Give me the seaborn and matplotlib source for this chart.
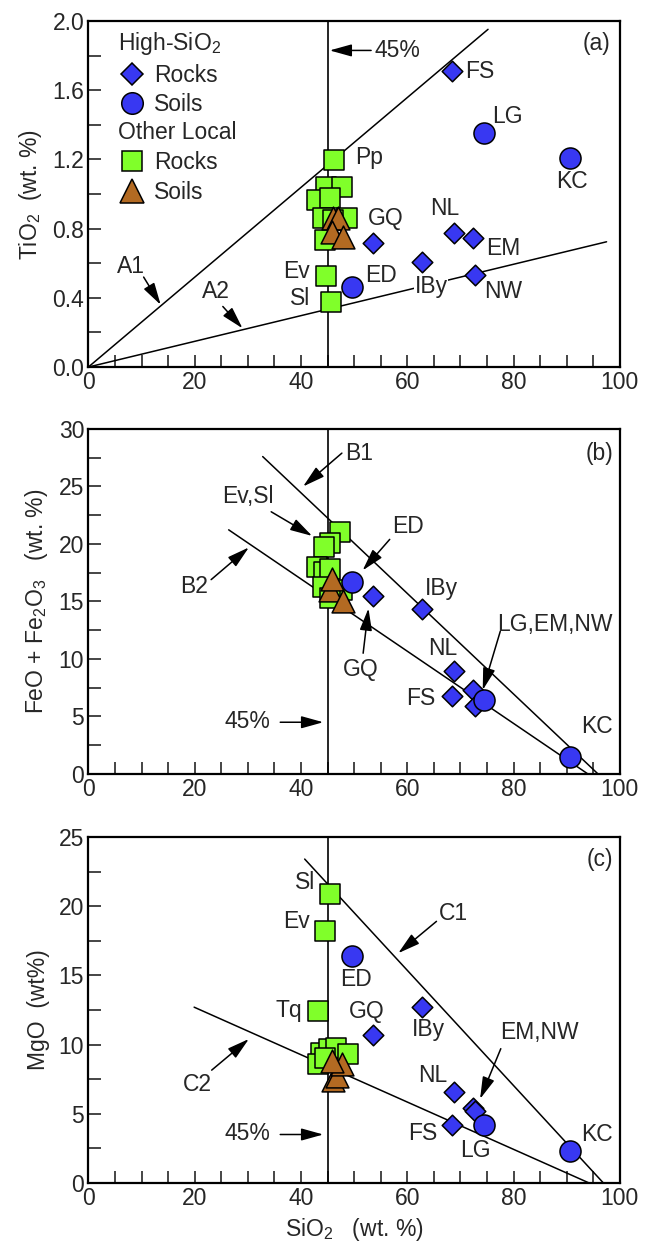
import numpy as np
import pandas as pd
import matplotlib
matplotlib.use('Agg')
import matplotlib.pyplot as plt
from matplotlib.lines import Line2D
from matplotlib.ticker import MultipleLocator, FormatStrFormatter
import seaborn as sns

sns.set_style('white')
plt.rcParams['font.family'] = ['Liberation Sans', 'DejaVu Sans']
plt.rcParams['mathtext.default'] = 'regular'
plt.rcParams['mathtext.fontset'] = 'custom'
plt.rcParams['mathtext.rm'] = 'Liberation Sans'

BLUE = '#3838F2'
GREEN = '#80FF2A'
BROWN = '#B36A22'
FS_ = 16.5

# ---- High-SiO2 samples (same SiO2 in every panel) ----
hi_rock_names = ['FS', 'NL', 'EM', 'IBy', 'NW', 'GQ']
hi_rock_sio2 = [68.5, 68.8, 72.3, 62.8, 72.7, 53.5]
hi_rock_tio2 = [1.71, 0.776, 0.747, 0.609, 0.532, 0.715]
hi_rock_fe = [6.8, 8.97, 7.32, 14.34, 5.87, 15.5]
hi_rock_mgo = [4.2, 6.55, 5.41, 12.74, 5.17, 10.7]

hi_soil_names = ['ED', 'LG', 'KC']
hi_soil_sio2 = [49.6, 74.4, 90.7]
hi_soil_tio2 = [0.464, 1.351, 1.21]
hi_soil_fe = [16.7, 6.45, 1.52]
hi_soil_mgo = [16.4, 4.2, 2.33]

# ---- Other local samples, read per panel ----
loc_rock_a_sio2 = [46.3, 44.8, 47.7, 43.0, 45.5, 44.2, 48.6, 46.1, 44.5, 44.7, 45.6]
loc_rock_a_tio2 = [1.197, 1.042, 1.042, 0.965, 0.975, 0.86, 0.86, 0.85, 0.734, 0.528, 0.377]
loc_soil_a_sio2 = [46.1, 47.0, 45.8, 48.0]
loc_soil_a_tio2 = [0.86, 0.86, 0.78, 0.753]

loc_rock_b_sio2 = [47.3, 45.4, 44.4, 43.0, 44.4, 45.5, 44.2, 47.7, 45.5]
loc_rock_b_fe = [21.0, 20.1, 19.7, 18.0, 17.6, 17.8, 16.3, 16.0, 15.3]
loc_soil_b_sio2 = [45.5, 45.8, 48.0]
loc_soil_b_fe = [16.0, 16.95, 15.0]

loc_rock_c_sio2 = [45.5, 44.6, 43.3, 43.7, 45.3, 46.6, 48.9, 43.3, 44.5]
loc_rock_c_mgo = [20.9, 18.2, 12.45, 9.42, 9.66, 9.78, 9.3, 8.57, 9.0]
loc_soil_c_sio2 = [46.1, 46.7, 47.7, 45.8]
loc_soil_c_mgo = [7.47, 7.7, 8.57, 8.8]

# ---- reference lines (end points) ----
line_a1 = ([0, 75.2], [0, 1.952])
line_a2 = ([0, 97.5], [0, 0.724])
line_b1 = ([32.8, 95.9], [27.6, 0.0])
line_b2 = ([26.4, 94.0], [21.23, 0.0])
line_c1 = ([40.7, 96.9], [23.4, 0.0])
line_c2 = ([19.9, 94.2], [12.7, 0.0])

MK = dict(edgecolor='black', linewidth=1.1, legend=False)


def scatter_groups(ax, rx, ry, sx, sy, hx, hy, cx, cy):
    sns.scatterplot(x=rx, y=ry, marker='s', s=210, color=GREEN, ax=ax, zorder=3, **MK)
    sns.scatterplot(x=sx, y=sy, marker='^', s=270, color=BROWN, ax=ax, zorder=4, **MK)
    sns.scatterplot(x=hx, y=hy, marker='D', s=110, color=BLUE, ax=ax, zorder=5, **MK)
    sns.scatterplot(x=cx, y=cy, marker='o', s=230, color=BLUE, ax=ax, zorder=6, **MK)


def style_axis(ax, ymax, ymaj, ymin, fmt):
    ax.set_xlim(0, 100)
    ax.set_ylim(0, ymax)
    ax.xaxis.set_major_locator(MultipleLocator(20))
    ax.xaxis.set_minor_locator(MultipleLocator(5))
    ax.yaxis.set_major_locator(MultipleLocator(ymaj))
    ax.yaxis.set_minor_locator(MultipleLocator(ymin))
    ax.yaxis.set_major_formatter(FormatStrFormatter(fmt))
    ax.tick_params(which='both', direction='in', length=9, width=1.2,
                   top=False, right=False, bottom=True, left=True, labelsize=FS_, pad=3)
    for sp in ax.spines.values():
        sp.set_linewidth(1.6)
        sp.set_color('black')
    ax.axvline(45, color='black', lw=1.2, zorder=1)


def arrow(ax, tail, head):
    ax.annotate('', xy=head, xytext=tail,
                arrowprops=dict(arrowstyle='-|>,head_length=0.9,head_width=0.25',
                                mutation_scale=15, color='black', lw=1.1,
                                shrinkA=0, shrinkB=0), zorder=7)


def lbl(ax, x, y, s, ha='center', **kw):
    ax.text(x, y, s, ha=ha, va='center', fontsize=FS_, zorder=8, **kw)


fig = plt.figure(figsize=(6.45, 12.51), dpi=100)
L, W = 0.137, 0.824
ax_a = fig.add_axes([L, 0.7066, W, 0.2766])
ax_b = fig.add_axes([L, 0.3813, W, 0.2758])
ax_c = fig.add_axes([L, 0.0544, W, 0.2766])

# ---------------- panel (a) ----------------
ax = ax_a
style_axis(ax, 2.0, 0.4, 0.2, '%.1f')
ax.plot(*line_a1, color='black', lw=1.1, zorder=2)
ax.plot(*line_a2, color='black', lw=1.1, zorder=2)
scatter_groups(ax, loc_rock_a_sio2, loc_rock_a_tio2, loc_soil_a_sio2, loc_soil_a_tio2,
               hi_rock_sio2, hi_rock_tio2, hi_soil_sio2, hi_soil_tio2)
for x, y, s in [(73.7, 1.71, 'FS'), (78.8, 1.45, 'LG'), (91.0, 1.07, 'KC'), (52.8, 1.21, 'Pp'),
                (56.0, 0.86, 'GQ'), (67.0, 0.917, 'NL'), (78.0, 0.686, 'EM'),
                (78.0, 0.436, 'NW'), (55.0, 0.532, 'ED'), (8.1, 0.58, 'A1'), (24.0, 0.435, 'A2'),
                (58.2, 1.83, '45%'), (95.6, 1.87, '(a)')]:
    lbl(ax, x, y, s)
lbl(ax, 64.5, 0.464, 'IBy', bbox=dict(fc='white', ec='none', pad=0.3))
lbl(ax, 41.6, 0.551, 'Ev', ha='right')
lbl(ax, 41.8, 0.397, 'Sl', ha='right')
arrow(ax, (53.2, 1.83), (45.4, 1.83))
arrow(ax, (10.4, 0.52), (13.6, 0.36))
arrow(ax, (25.3, 0.35), (29.0, 0.224))
ax.set_ylabel('TiO$_2$  (wt. %)', fontsize=FS_, labelpad=6)

h_dia = Line2D([], [], ls='none', marker='D', ms=11, mfc=BLUE, mec='black', mew=1.1)
h_cir = Line2D([], [], ls='none', marker='o', ms=15.5, mfc=BLUE, mec='black', mew=1.1)
h_sq = Line2D([], [], ls='none', marker='s', ms=15, mfc=GREEN, mec='black', mew=1.1)
h_tri = Line2D([], [], ls='none', marker='^', ms=17, mfc=BROWN, mec='black', mew=1.1)
leg_kw = dict(frameon=False, fontsize=FS_, title_fontsize=FS_, alignment='left',
              handlelength=1.2, handletextpad=0.35, labelspacing=0.3, borderpad=0,
              borderaxespad=0, loc='upper left')
leg1 = ax.legend([h_dia, h_cir], ['Rocks', 'Soils'], title='High-SiO$_2$',
                 bbox_to_anchor=(0.056, 0.975), **leg_kw)
ax.add_artist(leg1)
ax.legend([h_sq, h_tri], ['Rocks', 'Soils'], title='Other Local',
          bbox_to_anchor=(0.056, 0.71), **leg_kw)

# ---------------- panel (b) ----------------
ax = ax_b
style_axis(ax, 30, 5, 2.5, '%d')
ax.plot(*line_b1, color='black', lw=1.1, zorder=2)
ax.plot(*line_b2, color='black', lw=1.1, zorder=2)
scatter_groups(ax, loc_rock_b_sio2, loc_rock_b_fe, loc_soil_b_sio2, loc_soil_b_fe,
               hi_rock_sio2, hi_rock_fe, hi_soil_sio2, hi_soil_fe)
for x, y, s in [(51.0, 27.9, 'B1'), (30.0, 24.1, 'Ev,Sl'), (60.2, 21.5, 'ED'), (66.4, 16.1, 'IBy'),
                (19.8, 16.3, 'B2'), (51.2, 9.1, 'GQ'), (87.8, 13.0, 'LG,EM,NW'),
                (66.6, 10.9, 'NL'), (62.6, 6.6, 'FS'), (95.6, 4.1, 'KC'),
                (30.0, 4.57, '45%'), (96.2, 27.9, '(b)')]:
    lbl(ax, x, y, s)
arrow(ax, (47.7, 27.9), (40.4, 25.0))
arrow(ax, (34.4, 22.8), (42.1, 20.7))
arrow(ax, (56.7, 20.4), (51.6, 17.7))
arrow(ax, (23.1, 16.9), (30.2, 19.7))
arrow(ax, (51.7, 10.5), (52.7, 14.4))
arrow(ax, (77.5, 12.4), (74.2, 7.3))
arrow(ax, (36.1, 4.5), (44.2, 4.5))
ax.set_ylabel('FeO + Fe$_2$O$_3$   (wt. %)', fontsize=FS_, labelpad=6)

# ---------------- panel (c) ----------------
ax = ax_c
style_axis(ax, 25, 5, 2.5, '%d')
ax.plot(*line_c1, color='black', lw=1.1, zorder=2)
ax.plot(*line_c2, color='black', lw=1.1, zorder=2)
scatter_groups(ax, loc_rock_c_sio2, loc_rock_c_mgo, loc_soil_c_sio2, loc_soil_c_mgo,
               hi_rock_sio2, hi_rock_mgo, hi_soil_sio2, hi_soil_mgo)
for x, y, s in [(50.3, 14.7, 'ED'), (52.4, 12.4, 'GQ'), (63.9, 11.1, 'IBy'), (68.7, 19.5, 'C1'),
                (84.9, 10.9, 'EM,NW'), (64.8, 7.77, 'NL'), (62.9, 3.6, 'FS'), (72.9, 2.33, 'LG'),
                (95.6, 3.47, 'KC'), (20.5, 7.1, 'C2'), (30.0, 3.54, '45%'), (96.2, 23.4, '(c)')]:
    lbl(ax, x, y, s)
lbl(ax, 42.6, 21.7, 'Sl', ha='right')
lbl(ax, 41.7, 18.9, 'Ev', ha='right')
lbl(ax, 40.2, 12.45, 'Tq', ha='right')
arrow(ax, (65.5, 18.9), (58.3, 16.6))
arrow(ax, (77.6, 9.7), (73.7, 6.07))
arrow(ax, (23.2, 8.15), (30.2, 10.4))
arrow(ax, (36.1, 3.5), (44.2, 3.5))
ax.set_ylabel('MgO  (wt%)', fontsize=FS_, labelpad=6)
ax.set_xlabel('SiO$_2$   (wt. %)', fontsize=FS_, labelpad=4)

fig.savefig('out.png', dpi=100)
